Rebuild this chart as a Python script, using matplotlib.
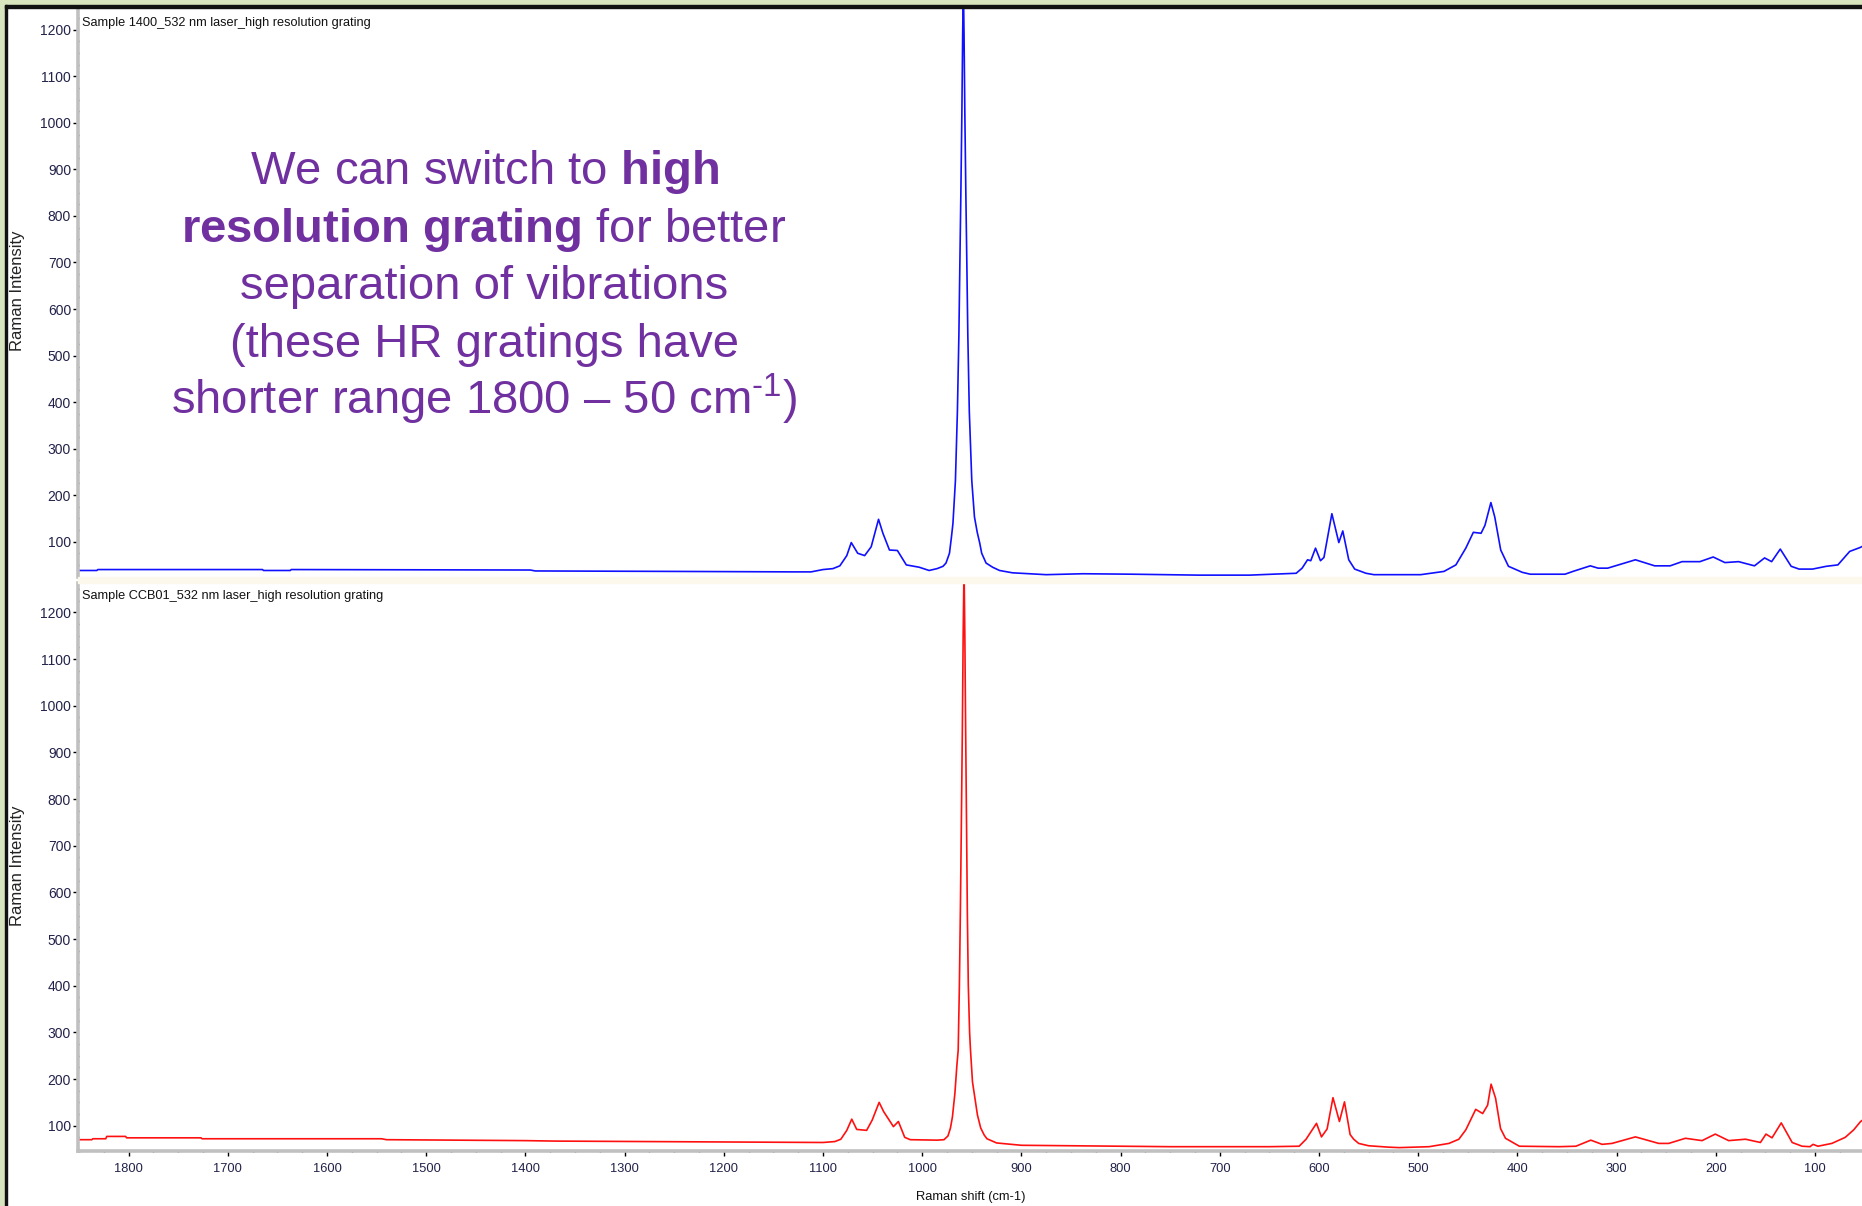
import matplotlib
matplotlib.use("Agg")
import matplotlib.pyplot as plt
from matplotlib.patches import Rectangle
from matplotlib.ticker import MultipleLocator

# ---------------- data ----------------
blue_title = "Sample 1400_532 nm laser_high resolution grating"
red_title = "Sample CCB01_532 nm laser_high resolution grating"

blue_shift = [1851, 1832, 1831, 1665, 1664, 1637, 1636, 1395, 1390, 1250, 1130, 1112,
              1100, 1090, 1083, 1076, 1071.5, 1065, 1058, 1051.4, 1044, 1039.6, 1033,
              1025, 1016, 1003, 993, 985, 979, 976, 972.5, 970.5, 969, 966.5, 964.5,
              963, 962, 961, 960, 959.2, 958.5, 957.8, 957, 956, 955, 954, 952.5, 950,
              947.3, 944.5, 942, 940, 935.6, 929, 922, 909, 875, 838, 788, 721, 670,
              647, 623, 617, 611.5, 608.3, 603.5, 598.5, 595, 587, 580, 576, 570, 564,
              552.6, 544.6, 497.5, 474, 462, 452, 444.4, 436.6, 432.7, 426.7, 422.8,
              416.8, 409, 395, 387, 352, 344, 326.5, 318.6, 309, 281, 261.6, 246, 234,
              216, 202.6, 190.8, 177, 161, 150.8, 143.7, 135, 124, 116, 102.5, 88.6,
              76.9, 65, 55, 50]
blue_intensity = [38, 38, 40, 40, 38, 38, 40, 39, 37, 36, 35, 35,
                  40, 42, 48, 70, 98, 75, 70, 89, 148, 118, 82,
                  81, 50, 45, 38, 42, 47, 54, 75, 110, 139, 231, 380,
                  544, 700, 850, 1020, 1188, 1300, 1188, 1020, 850, 700, 544, 380, 231,
                  153, 120, 97, 75, 54, 45, 38, 33, 29, 31, 30, 28, 28,
                  30, 32, 43, 61, 59, 86, 59, 66, 160, 98, 123, 61, 41,
                  32, 29, 29, 36, 50, 86, 120, 118, 135, 184, 153,
                  82, 47, 34, 30, 30, 36, 48, 43, 43, 61, 48, 48, 57,
                  57, 67, 55, 57, 48, 65, 57, 84, 47, 41, 41, 47,
                  50, 79, 87, 92]

red_shift = [1851, 1837, 1836, 1823, 1822, 1803, 1802, 1727, 1726, 1545, 1540, 1400,
             1370, 1280, 1100, 1088, 1082, 1076, 1071, 1066, 1056, 1050.4, 1043.4,
             1038.8, 1029, 1024, 1017.6, 1012, 985, 978, 974, 971.5, 969.5, 967, 965,
             963.7, 962.5, 961.5, 960.5, 959.5, 958.7, 957.8, 957, 956.2, 955.3, 954.5,
             953.5, 952.2, 951.3, 949.3, 944.3, 941, 937.5, 934.7, 925, 910, 900, 850,
             800, 750, 700, 650, 620, 613, 609, 602.5, 597.5, 591.8, 585.9, 579.4,
             574.3, 568.6, 565, 560, 550, 530, 519, 489, 469, 459, 452, 442, 435, 430,
             426.5, 422, 417, 412, 398, 358, 341, 326, 314.6, 304.6, 281, 257.5, 247.5,
             230.6, 213.8, 200.5, 187, 170, 155, 149.4, 143.3, 134, 123, 113, 105, 102,
             97, 83, 69.5, 61, 54, 50]
red_intensity = [70, 70, 72, 72, 77, 77, 74, 74, 72, 72, 70, 68,
                 67, 66, 64, 66, 71, 90, 114, 92, 90, 112, 150,
                 130, 98, 109, 75, 70, 69, 70, 78, 95, 119, 170, 230,
                 262, 400, 560, 750, 950, 1150, 1300, 1150, 950, 750, 560,
                 400, 300, 262, 194, 123, 95, 80, 72, 63, 60, 58, 57,
                 56, 55, 55, 55, 56, 71, 84, 105, 76, 93, 160, 109,
                 151, 81, 71, 62, 57, 54, 53, 55, 62, 71, 91, 135, 126, 144,
                 189, 159, 94, 73, 56, 55, 56, 69, 60, 62, 76, 62, 62,
                 73, 68, 82, 68, 71, 64, 82, 74, 106, 64, 56, 55, 60,
                 56, 62, 75, 91, 109, 115]

x_limits = (1851, 52.6)
top_ylim = (24, 1247)
bottom_ylim = (46.4, 1263)

note_lines = [
    r"We can switch to $\mathbf{high}$",
    r"$\mathbf{resolution\ grating}$ for better",
    r"separation of vibrations",
    r"(these HR gratings have",
    r"shorter range 1800 – 50 cm$^{\text{-1}}$)",
]

# ---------------- style ----------------
plt.rcParams['mathtext.fontset'] = 'custom'
plt.rcParams['mathtext.rm'] = 'Liberation Sans'
plt.rcParams['mathtext.bf'] = 'Liberation Sans:bold'
plt.rcParams['mathtext.it'] = 'Liberation Sans:italic'

W, H = 1862, 1206
fig = plt.figure(figsize=(W / 100, H / 100), dpi=100)
fig.patch.set_facecolor('white')

def fx(px):
    return px / W

def fy(py):
    return 1 - py / H

narrow = ['Liberation Sans Narrow', 'Liberation Sans', 'DejaVu Sans']
tick_color = '#22224a'
spine_gray = '#c0c0c0'

# frame decorations
fig.patches.append(Rectangle((0, fy(5)), 1, 5 / H, transform=fig.transFigure,
                             color='#d7e4bd', zorder=0))
fig.patches.append(Rectangle((0, 0), 5 / W, 1, transform=fig.transFigure,
                             color='#d7e4bd', zorder=0))
fig.patches.append(Rectangle((fx(5), fy(8)), 1, 3 / H, transform=fig.transFigure,
                             color='#111111', zorder=5))
fig.patches.append(Rectangle((fx(5), 0), 2 / W, fy(5), transform=fig.transFigure,
                             color='#111111', zorder=5))
fig.patches.append(Rectangle((fx(78), fy(583)), 1, 6 / H, transform=fig.transFigure,
                             color='#fdf8ec', zorder=0))

left = fx(78)
ax1 = fig.add_axes([left, fy(577), 1 - left, (577 - 8) / H])
ax2 = fig.add_axes([left, fy(1150.7), 1 - left, (1150.7 - 583) / H])

for ax in (ax1, ax2):
    ax.set_facecolor('white')
    ax.patch.set_alpha(0)
    ax.set_xlim(*x_limits)
    for s in ('top', 'right'):
        ax.spines[s].set_visible(False)
    ax.spines['left'].set_color(spine_gray)
    ax.spines['left'].set_linewidth(2.6)
    ax.spines['bottom'].set_color(spine_gray)
    ax.spines['bottom'].set_linewidth(2.6)
    ax.yaxis.set_major_locator(MultipleLocator(100))
    ax.yaxis.set_minor_locator(MultipleLocator(25))
    ax.xaxis.set_major_locator(MultipleLocator(100))
    ax.xaxis.set_minor_locator(MultipleLocator(25))
    ax.tick_params(axis='both', which='major', direction='out', length=3.5, width=1,
                   color='black', labelcolor=tick_color, pad=1.5)
    ax.tick_params(axis='y', which='major', labelsize=10)
    ax.tick_params(axis='x', which='major', labelsize=9.3)
    ax.tick_params(axis='both', which='minor', direction='inout', length=2, width=1,
                   color='black')
    for lab in ax.get_yticklabels() + ax.get_xticklabels():
        lab.set_family(narrow)

ax1.spines['bottom'].set_visible(False)
ax1.tick_params(axis='x', which='both', bottom=False, labelbottom=False)
ax2.tick_params(axis='x', which='major', pad=5.5)

ax1.set_ylim(*top_ylim)
ax2.set_ylim(*bottom_ylim)

ax1.plot(blue_shift, blue_intensity, color='#1010ff', lw=1.2, clip_on=True)
ax2.plot(red_shift, red_intensity, color='#ff1010', lw=1.2, clip_on=True)

# panel titles
fig.text(fx(82), fy(17), blue_title, ha='left', va='top', fontsize=9.2,
         family=narrow, color='#111111')
fig.text(fx(82), fy(590), red_title, ha='left', va='top', fontsize=9.2,
         family=narrow, color='#111111')

# axis labels
fig.text(fx(18), fy(291), 'Raman Intensity', rotation=90, ha='center', va='center',
         fontsize=12, family=['Liberation Sans', 'DejaVu Sans'], color='#222222')
fig.text(fx(18), fy(866), 'Raman Intensity', rotation=90, ha='center', va='center',
         fontsize=12, family=['Liberation Sans', 'DejaVu Sans'], color='#222222')
fig.text(fx(971), fy(1197), 'Raman shift (cm-1)', ha='center', va='center',
         fontsize=9.3, family=narrow, color='#111111')

# overlay note
baselines = [184, 242, 299, 357, 414]
for line, b in zip(note_lines, baselines):
    fig.text(fx(484), fy(b), line, ha='center', va='baseline', fontsize=34,
             family=['Liberation Sans', 'DejaVu Sans'], color='#7030a0')

fig.savefig('out.png', dpi=100, facecolor='white')
